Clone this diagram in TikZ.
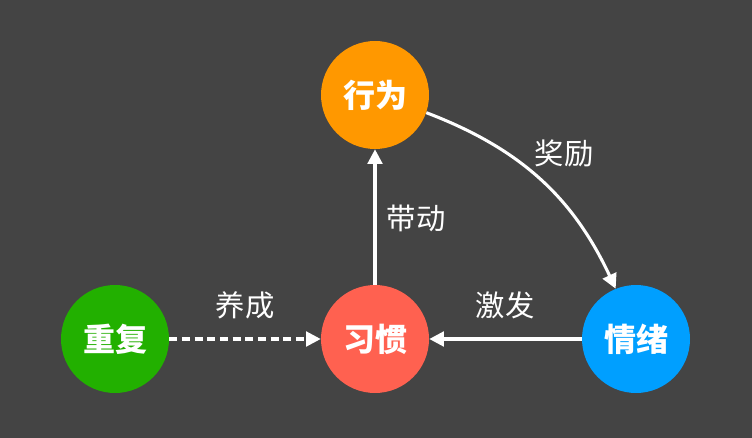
\documentclass[tikz,border=0pt]{standalone}
\usepackage{fontspec}
\setmainfont{Noto Sans CJK SC}
\usetikzlibrary{arrows.meta}
\definecolor{BgGray}{HTML}{444444}
\definecolor{HabitRed}{HTML}{FF6150}
\definecolor{ActOrange}{HTML}{FF9800}
\definecolor{RepGreen}{HTML}{22B000}
\definecolor{MoodBlue}{HTML}{009FFF}

\begin{document}
\begin{tikzpicture}[
    x=0.75pt, y=-0.75pt,
    >={Triangle[length=11pt,width=11pt]},
    ball/.style={
        circle,
        minimum size=81pt,
        inner sep=0pt,
        text=white,
        font=\fontsize{24}{28}\selectfont\bfseries
    },
    lbl/.style={text=white, font=\fontsize{22}{26}\selectfont},
    arrow/.style={->, line width=2.3pt, draw=white}
]

\fill[BgGray] (0,0) rectangle (752,438);
\useasboundingbox (0,0) rectangle (752,438);

\node[ball, fill=ActOrange] (xingwei) at (375,95) {行为};
\node[ball, fill=RepGreen] (chongfu) at (115,339) {重复};
\node[ball, fill=HabitRed] (xiguan) at (375,339) {习惯};
\node[ball, fill=MoodBlue] (qingxu) at (636,339) {情绪};

\draw[arrow] (xiguan) -- (xingwei);
\draw[arrow, dash pattern=on 6pt off 3.5pt] (chongfu) -- (xiguan);
\draw[arrow] (qingxu) -- (xiguan);
\draw[arrow] (xingwei.-19) to[bend left=22] (qingxu.112);

\node[lbl] (daidong) at (416,218) {带动};
\node[lbl] (yangcheng) at (245,305) {养成};
\node[lbl] (jifa) at (505,305) {激发};
\node[lbl] (jiangli) at (564,153) {奖励};

\end{tikzpicture}
\end{document}
